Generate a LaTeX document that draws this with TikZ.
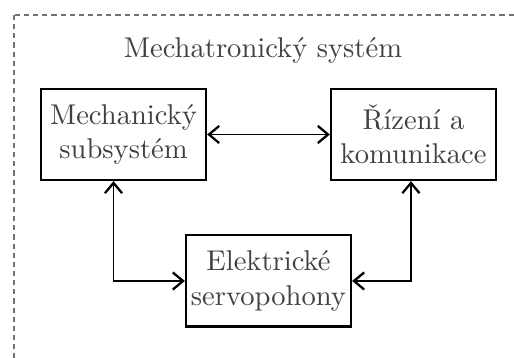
\documentclass[tikz,border=0pt]{standalone}
\usetikzlibrary{arrows.meta}
\begin{document}
\begin{tikzpicture}[x=0.35pt,y=-0.35pt,box_node/.style={draw,line width=0.75pt,text=black!75,align=center,minimum width=57.8pt,minimum height=31.9pt,inner sep=1pt},title_node/.style={text=black!75},link/.style={line width=0.6pt,{Straight Barb[length=3.6pt,width=6pt,line width=0.8pt]}-{Straight Barb[length=3.6pt,width=6pt,line width=0.8pt]}}]
		
		\useasboundingbox (0,0) rectangle (514,358);
		\clip (0,0) rectangle (514,358);
		\draw[black!55,line width=0.75pt,dash pattern=on 1.8pt off 1.4pt] (14,15) rectangle (560,400);
		
		\node[title_node] (title) at (263,50) {Mechatronický systém};
		\node[box_node] (mech) at (123.5,134.5) {Mechanický\\subsystém};
		\node[box_node] (rizeni) at (413.5,134.5) {Řízení a\\komunikace};
		\node[box_node] (elek) at (268.5,281) {Elektrické\\servopohony};
		
		\draw[link] (mech) -- (rizeni);
		\draw[link] ([xshift=-3.5pt]mech.south) |- (elek.west);
		\draw[link] ([xshift=-0.9pt]rizeni.south) |- (elek.east);
		\end{tikzpicture}
\end{document}
